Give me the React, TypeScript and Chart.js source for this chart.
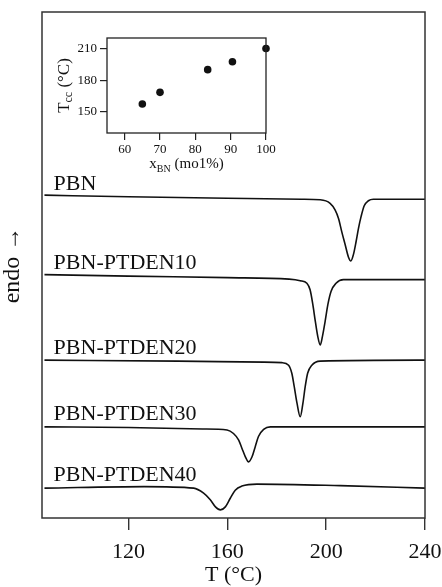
import React, { useEffect, useRef } from "react";
import { Chart, registerables } from "chart.js";

Chart.register(...registerables);

const SERIF = "'Liberation Serif', 'Times New Roman', serif";
const INK = "#111";

// Cooling scans: temperature (°C) and vertically offset heat flow (a.u.)
const PBN_T = [86, 120, 160, 190, 197.6, 201.6, 203.6, 205.0, 206.3, 207.7, 209.0, 210.0, 211.0, 212.1, 213.1, 214.1, 215.4, 217.1, 219.1, 240];
const PBN_Q = [6.38, 6.35, 6.32, 6.30, 6.29, 6.22, 6.09, 5.92, 5.66, 5.40, 5.16, 5.08, 5.20, 5.46, 5.73, 5.95, 6.17, 6.27, 6.30, 6.30];

const P10_T = [86, 120, 160, 185, 189.5, 192.2, 193.5, 194.6, 195.6, 196.6, 197.6, 198.5, 199.6, 200.7, 202.0, 204.0, 207.0, 240];
const P10_Q = [4.81, 4.78, 4.75, 4.72, 4.69, 4.64, 4.51, 4.22, 3.89, 3.59, 3.42, 3.59, 3.89, 4.22, 4.48, 4.64, 4.71, 4.71];

const P20_T = [86, 140, 175, 182.1, 184.8, 186.1, 187.1, 188.2, 189.5, 190.6, 191.5, 192.5, 194.2, 197.6, 240];
const P20_Q = [3.12, 3.10, 3.08, 3.07, 3.02, 2.86, 2.59, 2.27, 2.00, 2.27, 2.59, 2.86, 3.02, 3.10, 3.12];

const P30_T = [86, 120, 150, 159.9, 162.5, 164.6, 165.9, 167.3, 168.6, 170.0, 171.3, 172.6, 174.7, 177.4, 240];
const P30_Q = [1.80, 1.79, 1.76, 1.74, 1.67, 1.54, 1.38, 1.21, 1.11, 1.21, 1.41, 1.61, 1.75, 1.80, 1.80];

const P40_T = [86, 126.3, 146.4, 150.4, 153.1, 155.2, 157.2, 159.2, 161.2, 163.2, 165.9, 172.0, 205.7, 240];
const P40_Q = [0.59, 0.62, 0.59, 0.49, 0.36, 0.22, 0.16, 0.22, 0.39, 0.55, 0.63, 0.67, 0.64, 0.59];

const SAMPLE_NAMES = ["PBN", "PBN-PTDEN10", "PBN-PTDEN20", "PBN-PTDEN30", "PBN-PTDEN40"];
const NAME_T = 89.7;
const NAME_Q = [6.48, 4.92, 3.25, 1.94, 0.74];
const T_TICKS = [120, 160, 200, 240];

// Inset: cold-crystallisation peak vs. BN content
const X_BN = [65, 70, 83.5, 90.5, 100];
const T_CC = [157.5, 168.5, 190, 197.5, 210];
const X_BN_TICKS = [60, 70, 80, 90, 100];
const T_CC_TICKS = [150, 180, 210];

const framePlugin = {
  id: "frame",
  afterDatasetsDraw(chart: any, _args: any, opts: any) {
    const { ctx, chartArea } = chart;
    ctx.save();
    ctx.strokeStyle = opts.color || "#333";
    ctx.lineWidth = opts.width || 1.5;
    ctx.strokeRect(chartArea.left, chartArea.top, chartArea.right - chartArea.left, chartArea.bottom - chartArea.top);
    ctx.restore();
  },
};

const namesPlugin = {
  id: "sampleNames",
  afterDatasetsDraw(chart: any) {
    const { ctx, scales } = chart;
    ctx.save();
    ctx.fillStyle = INK;
    ctx.font = `22px ${SERIF}`;
    ctx.textAlign = "left";
    ctx.textBaseline = "alphabetic";
    SAMPLE_NAMES.forEach((name, i) => {
      ctx.fillText(name, scales.x.getPixelForValue(NAME_T), scales.y.getPixelForValue(NAME_Q[i]));
    });
    ctx.restore();
  },
};

type Seg = { text: string; size: number; dy: number };

function drawRich(ctx: CanvasRenderingContext2D, segs: Seg[]) {
  let total = 0;
  for (const s of segs) {
    ctx.font = `${s.size}px ${SERIF}`;
    total += ctx.measureText(s.text).width;
  }
  let x = -total / 2;
  for (const s of segs) {
    ctx.font = `${s.size}px ${SERIF}`;
    ctx.fillText(s.text, x, s.dy);
    x += ctx.measureText(s.text).width;
  }
}

const insetTitlesPlugin = {
  id: "insetTitles",
  afterDraw(chart: any) {
    const { ctx, chartArea } = chart;
    ctx.save();
    ctx.fillStyle = INK;
    ctx.textAlign = "left";
    ctx.textBaseline = "alphabetic";
    // x title
    ctx.save();
    ctx.translate((chartArea.left + chartArea.right) / 2, chartArea.bottom + 35);
    drawRich(ctx, [
      { text: "x", size: 15, dy: 0 },
      { text: "BN", size: 10, dy: 4 },
      { text: " (mo1%)", size: 15, dy: 0 },
    ]);
    ctx.restore();
    // y title
    ctx.save();
    ctx.translate(chartArea.left - 38, (chartArea.top + chartArea.bottom) / 2);
    ctx.rotate(-Math.PI / 2);
    drawRich(ctx, [
      { text: "T", size: 17, dy: 0 },
      { text: "cc", size: 12, dy: 3 },
      { text: " (°C)", size: 17, dy: 0 },
    ]);
    ctx.restore();
    ctx.restore();
  },
};

export default function App() {
  const mainRef = useRef<HTMLCanvasElement>(null);
  const insetRef = useRef<HTMLCanvasElement>(null);

  useEffect(() => {
    const curves = [
      [PBN_T, PBN_Q],
      [P10_T, P10_Q],
      [P20_T, P20_Q],
      [P30_T, P30_Q],
      [P40_T, P40_Q],
    ];

    const main = new Chart(mainRef.current!, {
      type: "line",
      data: {
        datasets: curves.map(([t, q], i) => ({
          label: SAMPLE_NAMES[i],
          data: t.map((v, j) => ({ x: v, y: q[j] })),
          borderColor: INK,
          borderWidth: 1.6,
          pointRadius: 0,
          fill: false,
          cubicInterpolationMode: "monotone" as const,
        })),
      },
      options: {
        animation: false,
        responsive: false,
        events: [],
        layout: { padding: { top: 12, right: 17, left: 0, bottom: 0 } },
        plugins: {
          legend: { display: false },
          tooltip: { enabled: false },
          frame: { color: "#333", width: 1.5 },
        } as any,
        scales: {
          x: {
            type: "linear",
            min: 85,
            max: 240,
            afterBuildTicks: (s: any) => {
              s.ticks = T_TICKS.map((value) => ({ value }));
            },
            afterFit: (s: any) => {
              s.height = 69;
              s.paddingLeft = 0;
              s.paddingRight = 0;
            },
            grid: { drawOnChartArea: false, drawTicks: true, tickLength: 12, color: "#333", lineWidth: 1.4 },
            border: { display: false },
            ticks: { font: { family: SERIF, size: 22 }, color: INK, padding: 9, maxRotation: 0, autoSkip: false },
            title: {
              display: true,
              text: "T (°C)",
              font: { family: SERIF, size: 22, lineHeight: 1 },
              color: INK,
              padding: { top: 0, bottom: 1 },
            },
          },
          y: {
            type: "linear",
            min: 0,
            max: 10,
            afterFit: (s: any) => {
              s.width = 42;
            },
            ticks: { display: false },
            grid: { display: false },
            border: { display: false },
            title: {
              display: true,
              text: "endo →",
              font: { family: SERIF, size: 24, lineHeight: 1.1 },
              color: INK,
              padding: 0,
            },
          },
        },
      },
      plugins: [framePlugin, namesPlugin],
    });

    const inset = new Chart(insetRef.current!, {
      type: "scatter",
      data: {
        datasets: [
          {
            data: X_BN.map((x, i) => ({ x, y: T_CC[i] })),
            pointRadius: 3.8,
            backgroundColor: INK,
            borderColor: INK,
            borderWidth: 0,
            clip: false as any,
          },
        ],
      },
      options: {
        animation: false,
        responsive: false,
        events: [],
        layout: { padding: { top: 8, right: 24, left: 0, bottom: 0 } },
        plugins: {
          legend: { display: false },
          tooltip: { enabled: false },
          frame: { color: "#222", width: 1.3 },
        } as any,
        scales: {
          x: {
            type: "linear",
            min: 55,
            max: 100,
            afterBuildTicks: (s: any) => {
              s.ticks = X_BN_TICKS.map((value) => ({ value }));
            },
            afterFit: (s: any) => {
              s.height = 47;
              s.paddingLeft = 0;
              s.paddingRight = 0;
            },
            grid: { drawOnChartArea: false, drawTicks: true, tickLength: 7, color: "#222", lineWidth: 1.2 },
            border: { display: false },
            ticks: { font: { family: SERIF, size: 13 }, color: INK, padding: 2, maxRotation: 0, autoSkip: false },
          },
          y: {
            type: "linear",
            min: 130,
            max: 220,
            afterBuildTicks: (s: any) => {
              s.ticks = T_CC_TICKS.map((value) => ({ value }));
            },
            afterFit: (s: any) => {
              s.width = 57;
              s.paddingTop = 0;
              s.paddingBottom = 0;
            },
            grid: { drawOnChartArea: false, drawTicks: true, tickLength: 7, color: "#222", lineWidth: 1.2 },
            border: { display: false },
            ticks: { font: { family: SERIF, size: 13 }, color: INK, padding: 3, autoSkip: false },
          },
        },
      },
      plugins: [framePlugin, insetTitlesPlugin],
    });

    return () => {
      main.destroy();
      inset.destroy();
    };
  }, []);

  return (
    <div style={{ position: "absolute", left: 0, top: 0, width: 442, height: 587, background: "#fff" }}>
      <canvas ref={mainRef} width={442} height={587} style={{ position: "absolute", left: 0, top: 0 }} />
      <canvas ref={insetRef} width={240} height={150} style={{ position: "absolute", left: 50, top: 30 }} />
    </div>
  );
}
